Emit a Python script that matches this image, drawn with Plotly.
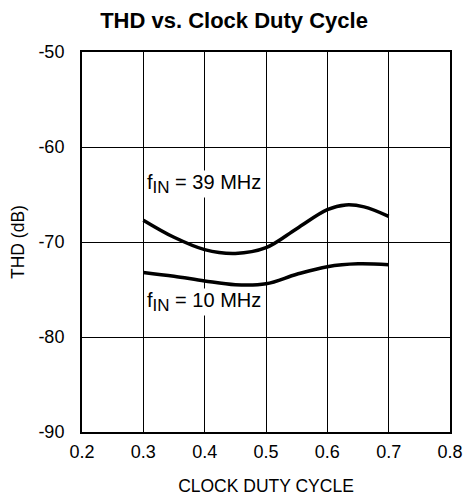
import plotly.graph_objects as go

x39 = [0.30, 0.35, 0.40, 0.45, 0.50, 0.55, 0.60, 0.63, 0.66, 0.70]
y39 = [-67.7, -69.5, -70.8, -71.2, -70.6, -68.6, -66.6, -66.1, -66.3, -67.3]
x10 = [0.30, 0.35, 0.40, 0.45, 0.50, 0.55, 0.60, 0.65, 0.70]
y10 = [-73.2, -73.6, -74.1, -74.5, -74.4, -73.4, -72.6, -72.3, -72.4]
xticks = [0.2, 0.3, 0.4, 0.5, 0.6, 0.7, 0.8]
yticks = [-50, -60, -70, -80, -90]

fig = go.Figure()
for xs, ys in [(x39, y39), (x10, y10)]:
    fig.add_trace(go.Scatter(x=xs, y=ys, mode="lines",
                             line=dict(color="black", width=3.5, shape="spline", smoothing=1.0),
                             showlegend=False, hoverinfo="skip"))

font = "Liberation Sans, Arial, sans-serif"
lab39 = "f<sub><span style='font-size:17px'>IN</span></sub> = 39 MHz"
lab10 = "f<sub><span style='font-size:17px'>IN</span></sub> = 10 MHz"
for txt, yv in [(lab39, -63.9), (lab10, -76.3)]:
    fig.add_annotation(x=0.304, y=yv, text=txt, showarrow=False,
                       xanchor="left", yanchor="middle", bgcolor="white", borderpad=0,
                       font=dict(family=font, size=20, color="black"))

# y-axis title placed as rotated text to match reference position
fig.add_annotation(xref="paper", yref="paper", x=(18 - 82) / 368, y=0.5,
                   text="THD (dB)", textangle=-90, showarrow=False,
                   xanchor="center", yanchor="middle",
                   font=dict(family=font, size=17.5, color="black"))

W, H = 468, 497
fig.update_layout(
    width=W, height=H,
    margin=dict(l=82, r=18, t=52, b=65),
    paper_bgcolor="white", plot_bgcolor="white",
    font=dict(family=font, size=18, color="black"),
    title=dict(text="<b>THD vs. Clock Duty Cycle</b>", x=0.5, xanchor="center",
               y=1 - 20 / H, yanchor="middle", font=dict(size=22)),
)
fig.update_xaxes(range=[0.2, 0.8], tickvals=xticks, ticktext=[f"{v:.1f}" for v in xticks],
                 showgrid=True, gridcolor="black", gridwidth=1,
                 showline=True, linecolor="black", linewidth=2, mirror=True,
                 ticks="", zeroline=False, ticklabelstandoff=2, automargin=False,
                 title=dict(text="CLOCK DUTY CYCLE", standoff=19, font=dict(size=17.5)))
fig.update_yaxes(range=[-90, -50], tickvals=yticks, ticktext=[str(v) for v in yticks],
                 showgrid=True, gridcolor="black", gridwidth=1,
                 showline=True, linecolor="black", linewidth=2, mirror=True,
                 ticks="", zeroline=False, ticklabelstandoff=12, automargin=False)

fig.write_html("out.html", config={"displayModeBar": False},
               post_script="document.body.style.margin='0';document.body.style.overflow='hidden';")
